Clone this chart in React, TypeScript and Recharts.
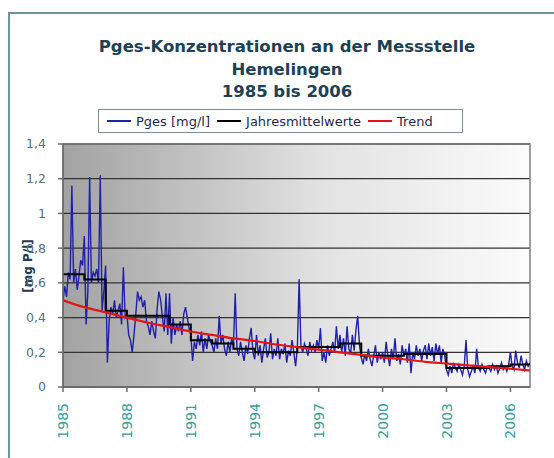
import {
  ComposedChart,
  Line,
  XAxis,
  YAxis,
  CartesianGrid,
  ReferenceArea,
} from 'recharts'

const years = [
  1985, 1986, 1987, 1988, 1989, 1990, 1991, 1992, 1993, 1994, 1995,
  1996, 1997, 1998, 1999, 2000, 2001, 2002, 2003, 2004, 2005, 2006,
]

// monthly Pges values [mg/l], one row per year
const pgesMonthly = [
  0.50, 0.58, 0.52, 0.66, 0.62, 1.16, 0.60, 0.68, 0.56, 0.64, 0.73, 0.70, // 1985
  0.87, 0.36, 0.55, 1.21, 0.60, 0.66, 0.64, 0.68, 0.60, 1.22, 0.44, 0.55, // 1986
  0.70, 0.14, 0.38, 0.46, 0.42, 0.50, 0.40, 0.44, 0.48, 0.36, 0.69, 0.40, // 1987
  0.42, 0.30, 0.27, 0.20, 0.30, 0.42, 0.55, 0.50, 0.52, 0.46, 0.50, 0.38, // 1988
  0.35, 0.30, 0.38, 0.32, 0.28, 0.45, 0.55, 0.50, 0.40, 0.32, 0.54, 0.30, // 1989
  0.54, 0.25, 0.40, 0.30, 0.36, 0.32, 0.38, 0.30, 0.42, 0.46, 0.40, 0.34, // 1990
  0.30, 0.15, 0.26, 0.22, 0.30, 0.24, 0.32, 0.20, 0.28, 0.22, 0.30, 0.26, // 1991
  0.24, 0.20, 0.28, 0.22, 0.41, 0.25, 0.30, 0.22, 0.18, 0.26, 0.20, 0.28, // 1992
  0.24, 0.54, 0.22, 0.18, 0.26, 0.20, 0.15, 0.24, 0.19, 0.28, 0.34, 0.20, // 1993
  0.16, 0.30, 0.18, 0.24, 0.14, 0.22, 0.28, 0.17, 0.20, 0.31, 0.16, 0.22, // 1994
  0.18, 0.28, 0.16, 0.22, 0.19, 0.25, 0.14, 0.21, 0.18, 0.27, 0.20, 0.12, // 1995
  0.22, 0.62, 0.24, 0.20, 0.25, 0.22, 0.18, 0.26, 0.21, 0.24, 0.20, 0.27, // 1996
  0.22, 0.34, 0.15, 0.20, 0.14, 0.24, 0.18, 0.22, 0.26, 0.20, 0.35, 0.22, // 1997
  0.30, 0.20, 0.28, 0.18, 0.35, 0.22, 0.19, 0.30, 0.21, 0.33, 0.41, 0.24, // 1998
  0.17, 0.13, 0.19, 0.15, 0.22, 0.16, 0.12, 0.18, 0.24, 0.14, 0.20, 0.16, // 1999
  0.20, 0.14, 0.26, 0.18, 0.12, 0.22, 0.16, 0.28, 0.15, 0.19, 0.13, 0.24, // 2000
  0.18, 0.22, 0.14, 0.25, 0.08, 0.20, 0.16, 0.24, 0.18, 0.22, 0.15, 0.21, // 2001
  0.24, 0.16, 0.25, 0.18, 0.23, 0.15, 0.25, 0.19, 0.24, 0.14, 0.22, 0.18, // 2002
  0.10, 0.07, 0.12, 0.08, 0.14, 0.11, 0.09, 0.13, 0.10, 0.07, 0.12, 0.27, // 2003
  0.10, 0.06, 0.09, 0.12, 0.08, 0.22, 0.11, 0.09, 0.13, 0.10, 0.08, 0.12, // 2004
  0.11, 0.09, 0.13, 0.10, 0.12, 0.08, 0.11, 0.14, 0.10, 0.12, 0.09, 0.13, // 2005
  0.20, 0.12, 0.10, 0.21, 0.14, 0.11, 0.18, 0.13, 0.10, 0.15, 0.12, 0.14, // 2006
]

const jahresmittel = [
  0.65, 0.62, 0.44, 0.41, 0.41, 0.36, 0.27, 0.25, 0.22, 0.20, 0.20,
  0.23, 0.23, 0.25, 0.18, 0.18, 0.19, 0.19, 0.11, 0.11, 0.12, 0.13,
]

const trend = [
  0.50, 0.46, 0.43, 0.40, 0.37, 0.345, 0.32, 0.30, 0.28, 0.265, 0.245,
  0.23, 0.215, 0.20, 0.185, 0.17, 0.16, 0.145, 0.135, 0.125, 0.115, 0.105,
]
const trendEnd = 0.095

const xTicks = [1985, 1988, 1991, 1994, 1997, 2000, 2003, 2006]
const yTicks = [0, 0.2, 0.4, 0.6, 0.8, 1, 1.2, 1.4]
const xEnd = 2006.92

const seriesNames = ['Pges [mg/l]', 'Jahresmittelwerte', 'Trend']
const seriesColors = ['#2020a8', '#000000', '#e51515']

const pgesData = pgesMonthly.map((v, i) => ({ x: 1985 + i / 12, pges: v }))
const meanData = [
  ...years.map((y, i) => ({ x: y, mean: jahresmittel[i] })),
  { x: xEnd, mean: jahresmittel[jahresmittel.length - 1] },
]
const trendData = [
  ...years.map((y, i) => ({ x: y, trend: trend[i] })),
  { x: xEnd, trend: trendEnd },
]

const fmtY = (v: number) => String(v).replace('.', ',')

function YearTick(props: any) {
  const { x, y, payload } = props
  return (
    <text
      x={x}
      y={y + 9}
      transform={`rotate(-90 ${x} ${y + 9})`}
      textAnchor="end"
      dy="0.36em"
      fill="#35a09c"
      fontSize={14}
      fontFamily="DejaVu Sans, sans-serif"
    >
      {payload.value}
    </text>
  )
}

function LegendBox() {
  return (
    <div
      style={{
        position: 'absolute',
        left: 98,
        top: 109,
        boxSizing: 'border-box',
        width: 365,
        height: 24,
        border: '1.5px solid #7a8f98',
        background: '#fff',
        display: 'flex',
        alignItems: 'center',
        paddingLeft: 8,
        fontFamily: 'DejaVu Sans, sans-serif',
        fontSize: 13,
        color: '#1f2a48',
      }}
    >
      {seriesNames.map((name, i) => (
        <div key={name} style={{ display: 'flex', alignItems: 'center', marginRight: 7 }}>
          <span
            style={{
              display: 'inline-block',
              width: 24,
              height: 2,
              background: seriesColors[i],
              marginRight: 5,
            }}
          />
          <span>{name}</span>
        </div>
      ))}
    </div>
  )
}

export default function App() {
  return (
    <div
      style={{
        position: 'absolute',
        left: 0,
        top: 0,
        width: 554,
        height: 458,
        overflow: 'hidden',
        background: '#fff',
      }}
    >
      <div
        style={{
          position: 'absolute',
          left: 8,
          top: 12,
          width: 620,
          height: 520,
          border: '2px solid #6f929c',
        }}
      />
      <div
        style={{
          position: 'absolute',
          left: 20,
          top: 36,
          width: 534,
          textAlign: 'center',
          fontFamily: 'DejaVu Sans, sans-serif',
          fontWeight: 'bold',
          fontSize: 16.5,
          lineHeight: '22.5px',
          color: '#1c4256',
        }}
      >
        Pges-Konzentrationen an der Messstelle
        <br />
        Hemelingen
        <br />
        1985 bis 2006
      </div>
      <LegendBox />
      <div
        style={{
          position: 'absolute',
          left: 28,
          top: 266,
          transform: 'translate(-50%, -50%) rotate(-90deg)',
          fontFamily: 'DejaVu Sans, sans-serif',
          fontWeight: 'bold',
          fontSize: 12,
          color: '#1d3a5a',
          whiteSpace: 'nowrap',
        }}
      >
        [mg P/l]
      </div>
      <div style={{ position: 'absolute', left: 0, top: 0 }}>
        <ComposedChart
          width={554}
          height={458}
          margin={{ top: 144, right: 24, bottom: 0, left: 0 }}
        >
          <defs>
            <linearGradient id="plotBg" x1="0" y1="0" x2="1" y2="0">
              <stop offset="0%" stopColor="#a2a2a2" />
              <stop offset="55%" stopColor="#e2e2e2" />
              <stop offset="100%" stopColor="#fbfbfb" />
            </linearGradient>
          </defs>
          <CartesianGrid
            vertical={false}
            stroke="#333"
            strokeWidth={1.3}
            fill="url(#plotBg)"
            fillOpacity={1}
          />
          <ReferenceArea
            x1={1985}
            x2={xEnd}
            y1={0}
            y2={1.4}
            fill="none"
            stroke="#7d7d7d"
            strokeWidth={1.5}
          />
          <XAxis
            type="number"
            dataKey="x"
            domain={[1985, xEnd]}
            ticks={xTicks}
            allowDataOverflow
            interval={0}
            tickSize={5}
            height={71}
            stroke="#6a6a6a"
            strokeWidth={1.5}
            tick={<YearTick />}
          />
          <YAxis
            domain={[0, 1.4]}
            ticks={yTicks}
            width={63}
            tickSize={5}
            tickMargin={12}
            tickFormatter={fmtY}
            stroke="#6a6a6a"
            strokeWidth={1.5}
            tick={{ fill: '#55707e', fontSize: 12.5, fontFamily: 'DejaVu Sans, sans-serif' }}
          />
          <Line
            data={pgesData}
            dataKey="pges"
            name={seriesNames[0]}
            type="linear"
            stroke={seriesColors[0]}
            strokeWidth={1.4}
            dot={false}
            isAnimationActive={false}
          />
          <Line
            data={meanData}
            dataKey="mean"
            name={seriesNames[1]}
            type="stepAfter"
            stroke={seriesColors[1]}
            strokeWidth={2}
            dot={false}
            isAnimationActive={false}
          />
          <Line
            data={trendData}
            dataKey="trend"
            name={seriesNames[2]}
            type="monotone"
            stroke={seriesColors[2]}
            strokeWidth={2.2}
            dot={false}
            isAnimationActive={false}
          />
        </ComposedChart>
      </div>
    </div>
  )
}
